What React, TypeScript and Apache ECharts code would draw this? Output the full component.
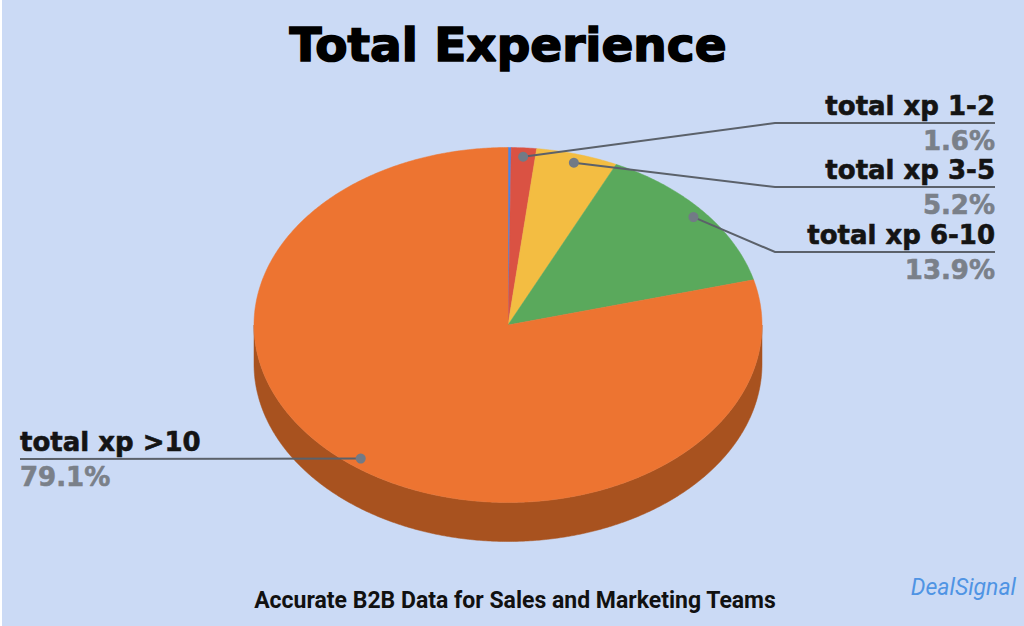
import React, { useEffect, useRef } from "react";
import * as echarts from "echarts";

// ---- data ----
const categories = ["total xp <1", "total xp 1-2", "total xp 3-5", "total xp 6-10", "total xp >10"];
const shares = [0.2, 1.6, 5.2, 13.9, 79.1];
const titleText = "Total Experience";
const subtitleText = "Accurate B2B Data for Sales and Marketing Teams";
const brandText = "DealSignal";

// ---- styling / layout ----
const topColors = ["#4a86e8", "#da5243", "#f3bd42", "#5aa95c", "#ed7431"];
const sideColors = ["#34609f", "#9a3a30", "#ad862e", "#3f7741", "#a8521f"];
const labelSlots: ({ side: "left" | "right"; y: number } | null)[] = [
  null,
  { side: "right", y: 123 },
  { side: "right", y: 187 },
  { side: "right", y: 252 },
  { side: "left", y: 459 },
];
const CX = 508;
const CY = 325;
const RX = 254;
const RY = 177.5;
const DEPTH = 39;
const LABEL_FONT = 'bold 26px "DejaVu Sans"';

function pt(theta: number, frac: number, dy: number): number[] {
  return [CX + RX * frac * Math.sin(theta), CY - RY * frac * Math.cos(theta) + dy];
}

function arc(a: number, b: number, dy: number): number[][] {
  const steps = Math.max(2, Math.ceil(((b - a) * 180) / Math.PI * 2));
  const out: number[][] = [];
  for (let k = 0; k <= steps; k++) {
    out.push(pt(a + ((b - a) * k) / steps, 1, dy));
  }
  return out;
}

function renderItem(params: any, api: any) {
  const i = params.dataIndex;
  const total = shares.reduce((s, v) => s + v, 0);
  let start = 0;
  for (let j = 0; j < i; j++) start += shares[j];
  const value = api.value(0);
  const a = (start / total) * Math.PI * 2;
  const b = ((start + value) / total) * Math.PI * 2;
  const children: any[] = [];

  // side wall (front half only)
  const s = Math.max(a, Math.PI / 2);
  const e = Math.min(b, (Math.PI * 3) / 2);
  if (e > s) {
    const pts = arc(s, e, 0).concat(arc(s, e, DEPTH).reverse());
    children.push({
      type: "polygon",
      z2: 1,
      shape: { points: pts },
      style: { fill: sideColors[i], stroke: sideColors[i], lineWidth: 0.5 },
    });
  }

  // top face
  const topPts = [[CX, CY]].concat(arc(a, b, 0));
  children.push({
    type: "polygon",
    z2: 2,
    shape: { points: topPts },
    style: { fill: topColors[i], stroke: topColors[i], lineWidth: 0.5 },
  });

  const slot = labelSlots[i];
  if (slot) {
    const mid = (a + b) / 2;
    const dot = pt(mid, 0.95, 0);
    const pct = value.toFixed(1) + "%";
    let linePts: number[][];
    let textX: number;
    let align: string;
    if (slot.side === "right") {
      linePts = [dot, [775, slot.y], [995, slot.y]];
      textX = 995;
      align = "right";
    } else {
      linePts = [dot, [20, slot.y]];
      textX = 20;
      align = "left";
    }
    children.push({
      type: "polyline",
      z2: 3,
      shape: { points: linePts },
      style: { stroke: "#5b616a", lineWidth: 2, fill: null },
    });
    children.push({
      type: "circle",
      z2: 4,
      shape: { cx: dot[0], cy: dot[1], r: 5 },
      style: { fill: "#727a86" },
    });
    children.push({
      type: "text",
      z2: 5,
      style: {
        text: categories[i],
        x: textX,
        y: slot.y - 17,
        font: LABEL_FONT,
        fill: "#141414",
        stroke: "#141414",
        lineWidth: 0.6,
        align,
        textAlign: align,
        verticalAlign: "middle",
        textVerticalAlign: "middle",
      },
    });
    children.push({
      type: "text",
      z2: 5,
      style: {
        text: pct,
        x: textX,
        y: slot.y + 18,
        font: LABEL_FONT,
        fill: "#7a8089",
        stroke: "#7a8089",
        lineWidth: 0.6,
        align,
        textAlign: align,
        verticalAlign: "middle",
        textVerticalAlign: "middle",
      },
    });
  }

  return { type: "group", children };
}

export default function App() {
  const ref = useRef<HTMLDivElement>(null);
  useEffect(() => {
    if (!ref.current) return;
    const chart = echarts.init(ref.current, null, { renderer: "svg" });
    chart.setOption({
      animation: false,
      backgroundColor: "#cbdaf5",
      graphic: [
        {
          type: "rect",
          left: 0,
          top: 0,
          shape: { width: 2, height: 626 },
          style: { fill: "#ffffff" },
          silent: true,
        },
        {
          type: "text",
          x: 508,
          y: 44,
          style: {
            text: titleText,
            font: 'bold 47px "DejaVu Sans"',
            fill: "#000000",
            stroke: "#000000",
            lineWidth: 1.6,
            align: "center",
            textAlign: "center",
            verticalAlign: "middle",
            textVerticalAlign: "middle",
          },
        },
        {
          type: "text",
          x: 515,
          y: 600,
          style: {
            text: subtitleText,
            font: 'bold 23px "Roboto"',
            fill: "#111111",
            align: "center",
            textAlign: "center",
            verticalAlign: "middle",
            textVerticalAlign: "middle",
          },
        },
        {
          type: "text",
          x: 1016,
          y: 587,
          style: {
            text: brandText,
            font: 'italic 400 23px "Roboto"',
            fill: "#4f94e4",
            align: "right",
            textAlign: "right",
            verticalAlign: "middle",
            textVerticalAlign: "middle",
          },
        },
      ],
      series: [
        {
          type: "custom",
          coordinateSystem: "none",
          silent: true,
          data: shares.map((v, i) => ({ value: [v, i], name: categories[i] })),
          renderItem,
        },
      ],
    });
    return () => chart.dispose();
  }, []);
  return (
    <div
      ref={ref}
      style={{ position: "fixed", left: 0, top: 0, width: 1024, height: 626 }}
    />
  );
}
